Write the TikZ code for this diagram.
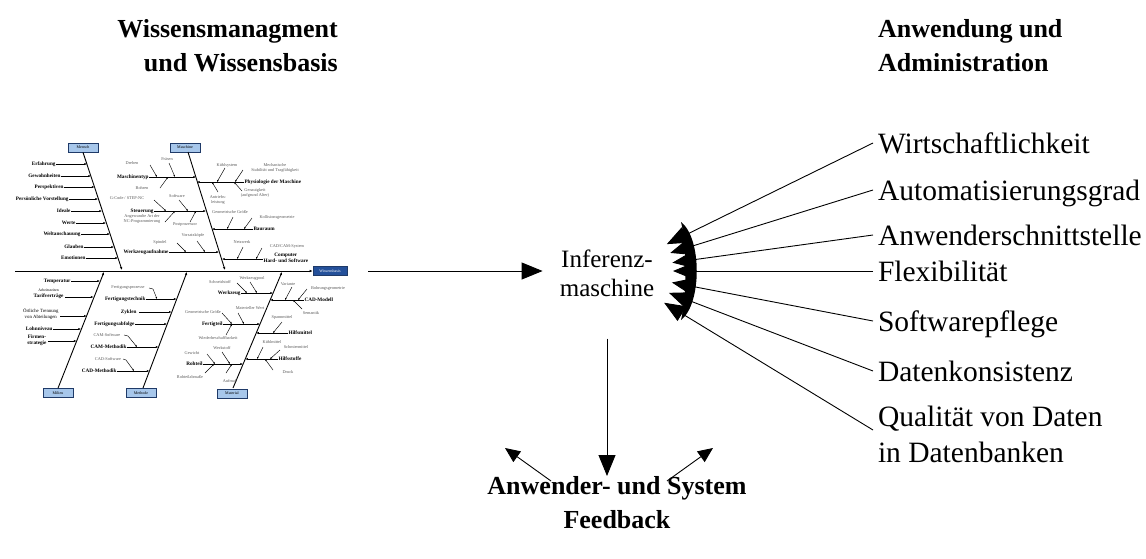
\documentclass[tikz,border=0pt]{standalone}
\usepackage{fontspec}
\setmainfont{Liberation Serif}
\usetikzlibrary{arrows.meta,calc}
\definecolor{boxfill}{HTML}{A7C7EB}
\definecolor{boxline}{HTML}{1F3A68}
\definecolor{basefill}{HTML}{24509A}
\definecolor{twigtext}{gray}{0.35}
\begin{document}
\begin{tikzpicture}[x=1pt,y=-1pt,
  ttl/.style={font=\bfseries\fontsize{26}{34}\selectfont, inner sep=0pt},
  crit/.style={font=\fontsize{29.5}{36}\selectfont, inner sep=0pt, outer xsep=5pt, outer ysep=0pt,
    text height=24pt, text depth=4pt, anchor=base west},
  big/.style={line width=0.9pt, -{Triangle[length=21pt,width=17pt]}},
  mid/.style={line width=0.9pt, -{Triangle[length=15pt,width=13pt]}},
  bone/.style={line width=0.9pt, -{Latex[length=3pt,width=2.6pt]}},
  rib/.style={line width=0.7pt, -{Latex[length=2.6pt,width=2.2pt]}},
  twig/.style={line width=0.45pt, -{Latex[length=2pt,width=1.8pt]}},
  cat/.style={draw=boxline, fill=boxfill, line width=0.7pt, minimum width=30pt, minimum height=9pt,
    inner sep=0pt, font=\fontsize{4}{4}\selectfont},
  rb/.style={font=\bfseries\fontsize{5.2}{5.6}\selectfont, inner sep=0.3pt, align=center},
  rr/.style={font=\fontsize{4.8}{5.2}\selectfont, inner sep=0.3pt, align=center},
  tw/.style={font=\fontsize{4.3}{4.7}\selectfont, text=twigtext, inner sep=0.3pt, align=center},
]
\useasboundingbox (0,0) rectangle (1146,558);

% ---------- cause-and-effect diagram ----------
\node[cat, fill=basefill, text=white, minimum width=34pt] (wb) at (330,271) {Wissensbasis};
\coordinate (sp0) at (15,271);
\draw[bone] (sp0) -- (wb.west);

\node[cat] (mensch) at (83,147.5) {Mensch};
\node[cat] (masch) at (185,147.5) {Maschine};
\node[cat] (milieu) at (58,393) {Milieu};
\node[cat] (methode) at (141,393) {Methode};
\node[cat] (material) at (232,393.5) {Material};

\draw[bone] (mensch.south) -- (122,270);
\draw[bone] (188,152) -- (225,270);
\draw[bone] (milieu.north) -- (104,272);
\draw[bone] (143,388) -- (187,272);
\draw[bone] (233,388) -- (282,272);

% Mensch
\node[rb, anchor=east] (m1) at (56,164) {Erfahrung};       \draw[rib] (m1.east) -- (87,164);
\node[rb, anchor=east] (m2) at (61,176) {Gewohnheiten};    \draw[rib] (m2.east) -- (91,176);
\node[rb, anchor=east] (m3) at (64,187) {Perspektiven};    \draw[rib] (m3.east) -- (94.5,187);
\node[rb, anchor=east] (m4) at (69,199) {Persönliche Vorstellung}; \draw[rib] (m4.east) -- (98,199);
\node[rb, anchor=east] (m5) at (71,211) {Ideale};          \draw[rib] (m5.east) -- (102,211);
\node[rb, anchor=east] (m6) at (76,223) {Werte};           \draw[rib] (m6.east) -- (106,223);
\node[rb, anchor=east] (m7) at (81,234) {Weltanschauung};  \draw[rib] (m7.east) -- (110,234);
\node[rb, anchor=east] (m8) at (84,247) {Glauben};         \draw[rib] (m8.east) -- (114,247);
\node[rb, anchor=east] (m9) at (86,258) {Emotionen};       \draw[rib] (m9.east) -- (118,258);

% Maschine, left side
\node[rb, anchor=east] (ma1) at (149,177) {Maschinentyp};  \draw[rib] (ma1.east) -- (196,177);
\node[tw] (ma1a) at (132,163) {Drehen};   \draw[twig] (150,165) -- (157,177);
\node[tw] (ma1b) at (167,159) {Fräsen};   \draw[twig] (169,163) -- (175,177);
\node[tw] (ma1c) at (142,188) {Bohren};   \draw[twig] (160,188) -- (168,177);
\node[rb, anchor=east] (ma2) at (154,211) {Steuerung};     \draw[rib] (ma2.east) -- (206,211);
\node[tw] (ma2a) at (127,198) {G-Code / STEP-NC};  \draw[twig] (154,200) -- (166,211);
\node[tw] (ma2b) at (177,196) {Software};          \draw[twig] (179,200) -- (188,211);
\node[tw] (ma2c) at (142,219) {Angewandte Art der\\NC-Programmierung}; \draw[twig] (165,222) -- (175,211);
\node[tw] (ma2d) at (185,225) {Postprozessor};     \draw[twig] (190,222) -- (196,211);
\node[rb, anchor=east] (ma3) at (169,252) {Werkzeugaufnahme}; \draw[rib] (ma3.east) -- (219,252);
\node[tw] (ma3a) at (160,242) {Spindel};        \draw[twig] (177,243) -- (186,252);
\node[tw] (ma3b) at (193,235) {Vorsatzköpfe};   \draw[twig] (197,241) -- (205,252);

% Maschine, right side
\node[rb, anchor=west] (mb1) at (244,182) {Physiologie der Maschine}; \draw[rib] (mb1.west) -- (197,182);
\node[tw] (mb1a) at (227,165) {Kühlsystem};  \draw[twig] (225,168) -- (217,182);
\node[tw] (mb1b) at (275,168) {Mechanische\\Stabilität und Tragfähigkeit}; \draw[twig] (243,170) -- (235,182);
\node[tw] (mb1c) at (218,200) {Antriebs-\\leistung}; \draw[twig] (218,192) -- (212,182);
\node[tw] (mb1d) at (255,193) {Genauigkeit\\(aufgrund Alter)}; \draw[twig] (242,191) -- (234,182);
\node[rb, anchor=west] (mb2) at (253,229) {Bauraum}; \draw[rib] (mb2.west) -- (212,229);
\node[tw] (mb2a) at (230,212) {Geometrische Größe};  \draw[twig] (233,217) -- (227,229);
\node[tw] (mb2b) at (277,217) {Kollisionsgeometrie}; \draw[twig] (252,218) -- (244,229);
\node[rb, anchor=west] (mb3) at (263,258) {Computer\\Hard- und Software}; \draw[rib] (mb3.west |- 0,259) -- (222,259);
\node[tw] (mb3a) at (242,242) {Netzwerk};        \draw[twig] (243,247) -- (237,259);
\node[tw] (mb3b) at (287,247) {CAD/CAM-System};  \draw[twig] (262,248) -- (256,259);

% Milieu
\node[rb, anchor=east] (mi1) at (71,281) {Temperatur}; \draw[rib] (mi1.east) -- (100,281);
\node[rb, anchor=east] (mi2) at (64,294) {{\mdseries\fontsize{3.8}{4.2}\selectfont Arbeitszeiten}\\Tarifverträge}; \draw[rib] (65,297) -- (93.5,297);
\node[rr, anchor=east] (mi3) at (59,314) {Örtliche Trennung\\von Abteilungen}; \draw[rib] (60,316) -- (86.7,316);
\node[rb, anchor=east] (mi4) at (53,329) {Lohnniveau}; \draw[rib] (mi4.east) -- (81,329);
\node[rb, anchor=east] (mi5) at (47,340) {Firmen-\\strategie}; \draw[rib] (48,341) -- (76.5,341);

% Methode
\node[rb, anchor=east] (me1) at (146,299) {Fertigungstechnik}; \draw[rib] (me1.east) -- (176.5,299);
\node[tw] (me1a) at (128,288) {Fertigungsprozesse}; \draw[twig] (149,288) -- (153,289) -- (157,299);
\node[rb, anchor=east] (me2) at (137,312) {Zyklen}; \draw[rib] (139,312) -- (171.6,312);
\node[rb, anchor=east] (me3) at (135,324) {Fertigungsabfolge}; \draw[rib] (me3.east) -- (167,324);
\node[rb, anchor=east] (me4) at (127,347) {CAM-Methodik}; \draw[rib] (me4.east) -- (158.4,347);
\node[tw] (me4a) at (107,335) {CAM-Software}; \draw[twig] (124,335) -- (128,336) -- (137,347);
\node[rb, anchor=east] (me5) at (117,371) {CAD-Methodik}; \draw[rib] (me5.east) -- (149.4,371);
\node[tw] (me5a) at (108,359) {CAD-Software}; \draw[twig] (123,359) -- (126,360) -- (134,371);

% Material
\node[rb, anchor=east] (mt1) at (241,293) {Werkzeug}; \draw[rib] (mt1.east) -- (273,293);
\node[tw] (mt1a) at (220,282) {Schneidstoff}; \draw[twig] (237,283) -- (247,293);
\node[tw] (mt1b) at (252,278) {Werkzeugpool}; \draw[twig] (250,282) -- (257,293);
\node[rb, anchor=west] (mt2) at (304,300) {CAD-Modell}; \draw[rib] (mt2.west) -- (270.2,300);
\node[tw] (mt2a) at (288,284) {Variante}; \draw[twig] (292,287) -- (285,300);
\node[tw] (mt2b) at (328,288) {Bohrungsgeometrie}; \draw[twig] (307,289) -- (298,300);
\node[tw] (mt2c) at (311,313) {Semantik}; \draw[twig] (302,309) -- (293,300);
\node[rb, anchor=east] (mt3) at (223,324) {Fertigteil}; \draw[rib] (mt3.east) -- (260,324);
\node[tw] (mt3a) at (203,312) {Geometrische Größe}; \draw[twig] (222,313) -- (232,324);
\node[tw] (mt3b) at (250,308) {Materieller Wert}; \draw[twig] (238,313) -- (244,324);
\node[tw] (mt3c) at (218,338) {Wiederbeschaffbarkeit}; \draw[twig] (226,335) -- (232,324);
\node[rb, anchor=west] (mt4) at (288,333) {Hilfsmittel}; \draw[rib] (mt4.west) -- (256.2,333);
\node[tw] (mt4a) at (282,317) {Spannmittel}; \draw[twig] (282,322) -- (273,333);
\node[rb, anchor=west] (mt5) at (278,359) {Hilfsstoffe}; \draw[rib] (mt5.west) -- (245.3,359);
\node[tw] (mt5a) at (272,342) {Kühlmittel}; \draw[twig] (263,347) -- (257,359);
\node[tw] (mt5b) at (296,347) {Schmiermittel}; \draw[twig] (280,350) -- (270,359);
\node[tw] (mt5c) at (288,372) {Druck}; \draw[twig] (273,370) -- (265,359);
\node[rb, anchor=east] (mt6) at (203,364) {Rohteil}; \draw[rib] (mt6.east) -- (243,364);
\node[tw] (mt6a) at (192,353) {Gewicht}; \draw[twig] (207,354) -- (215,364);
\node[tw] (mt6b) at (222,348) {Werkstoff}; \draw[twig] (222,352) -- (230,364);
\node[tw] (mt6c) at (190,377) {Rohteilabmaße}; \draw[twig] (205,373) -- (214,364);
\node[tw] (mt6d) at (230,381) {Aufmaß}; \draw[twig] (226,373) -- (232,364);

% ---------- headings ----------
\node[ttl, anchor=base east] (h1) at (338,37) {Wissensmanagment};
\node[ttl, anchor=base east] (h2) at (338,71) {und Wissensbasis};
\node[ttl, anchor=base west] (h3) at (878,37) {Anwendung und};
\node[ttl, anchor=base west] (h4) at (878,71) {Administration};

% ---------- inference engine ----------
\node[font=\fontsize{25}{29}\selectfont, align=center, inner xsep=17pt, inner ysep=2pt] (inf) at (607,273) {Inferenz-\\maschine};
\coordinate (fbout) at (368,271);
\draw[big] (fbout) -- (inf.west |- fbout);

% ---------- criteria ----------
\node[crit] (c1) at (873,153) {Wirtschaftlichkeit};
\node[crit] (c2) at (873,200) {Automatisierungsgrad};
\node[crit] (c3) at (873,245) {Anwenderschnittstelle};
\node[crit] (c4) at (873,281) {Flexibilität};
\node[crit] (c5) at (873,331) {Softwarepflege};
\node[crit] (c6) at (873,381) {Datenkonsistenz};
\node[crit] (c7a) at (873,426) {Qualität von Daten};
\node[crit] (c7b) at (873,462) {in Datenbanken};

\coordinate (P) at (612,271);
\fill (681,222) .. controls (702,238) and (702,304) .. (681,320)
      .. controls (687,297) and (687,245) .. cycle;
\draw[big] (c1.west) -- ($(P)!61pt!(c1.west)$);
\draw[big] (c2.west) -- ($(P)!61pt!(c2.west)$);
\draw[big] (c3.west) -- ($(P)!61pt!(c3.west)$);
\draw[big] (c4.west) -- ($(P)!61pt!(c4.west)$);
\draw[big] (c5.west) -- ($(P)!61pt!(c5.west)$);
\draw[big] (c6.west) -- ($(P)!61pt!(c6.west)$);
\draw[big] (c7a.south west) -- ($(P)!61pt!(c7a.south west)$);

% ---------- feedback ----------
\node[ttl, align=center, anchor=north] (fb) at (617,476) {Anwender- und System\\Feedback};
\draw[big, shorten <=40pt] (inf.south) -- (inf.south |- fb.north);
\coordinate (dl0) at (551,481);
\coordinate (dl1) at (505,448);
\coordinate (dr0) at (667,481);
\coordinate (dr1) at (713,448);
\draw[mid] (dl0) -- (dl1);
\draw[mid] (dr0) -- (dr1);
\end{tikzpicture}
\end{document}
